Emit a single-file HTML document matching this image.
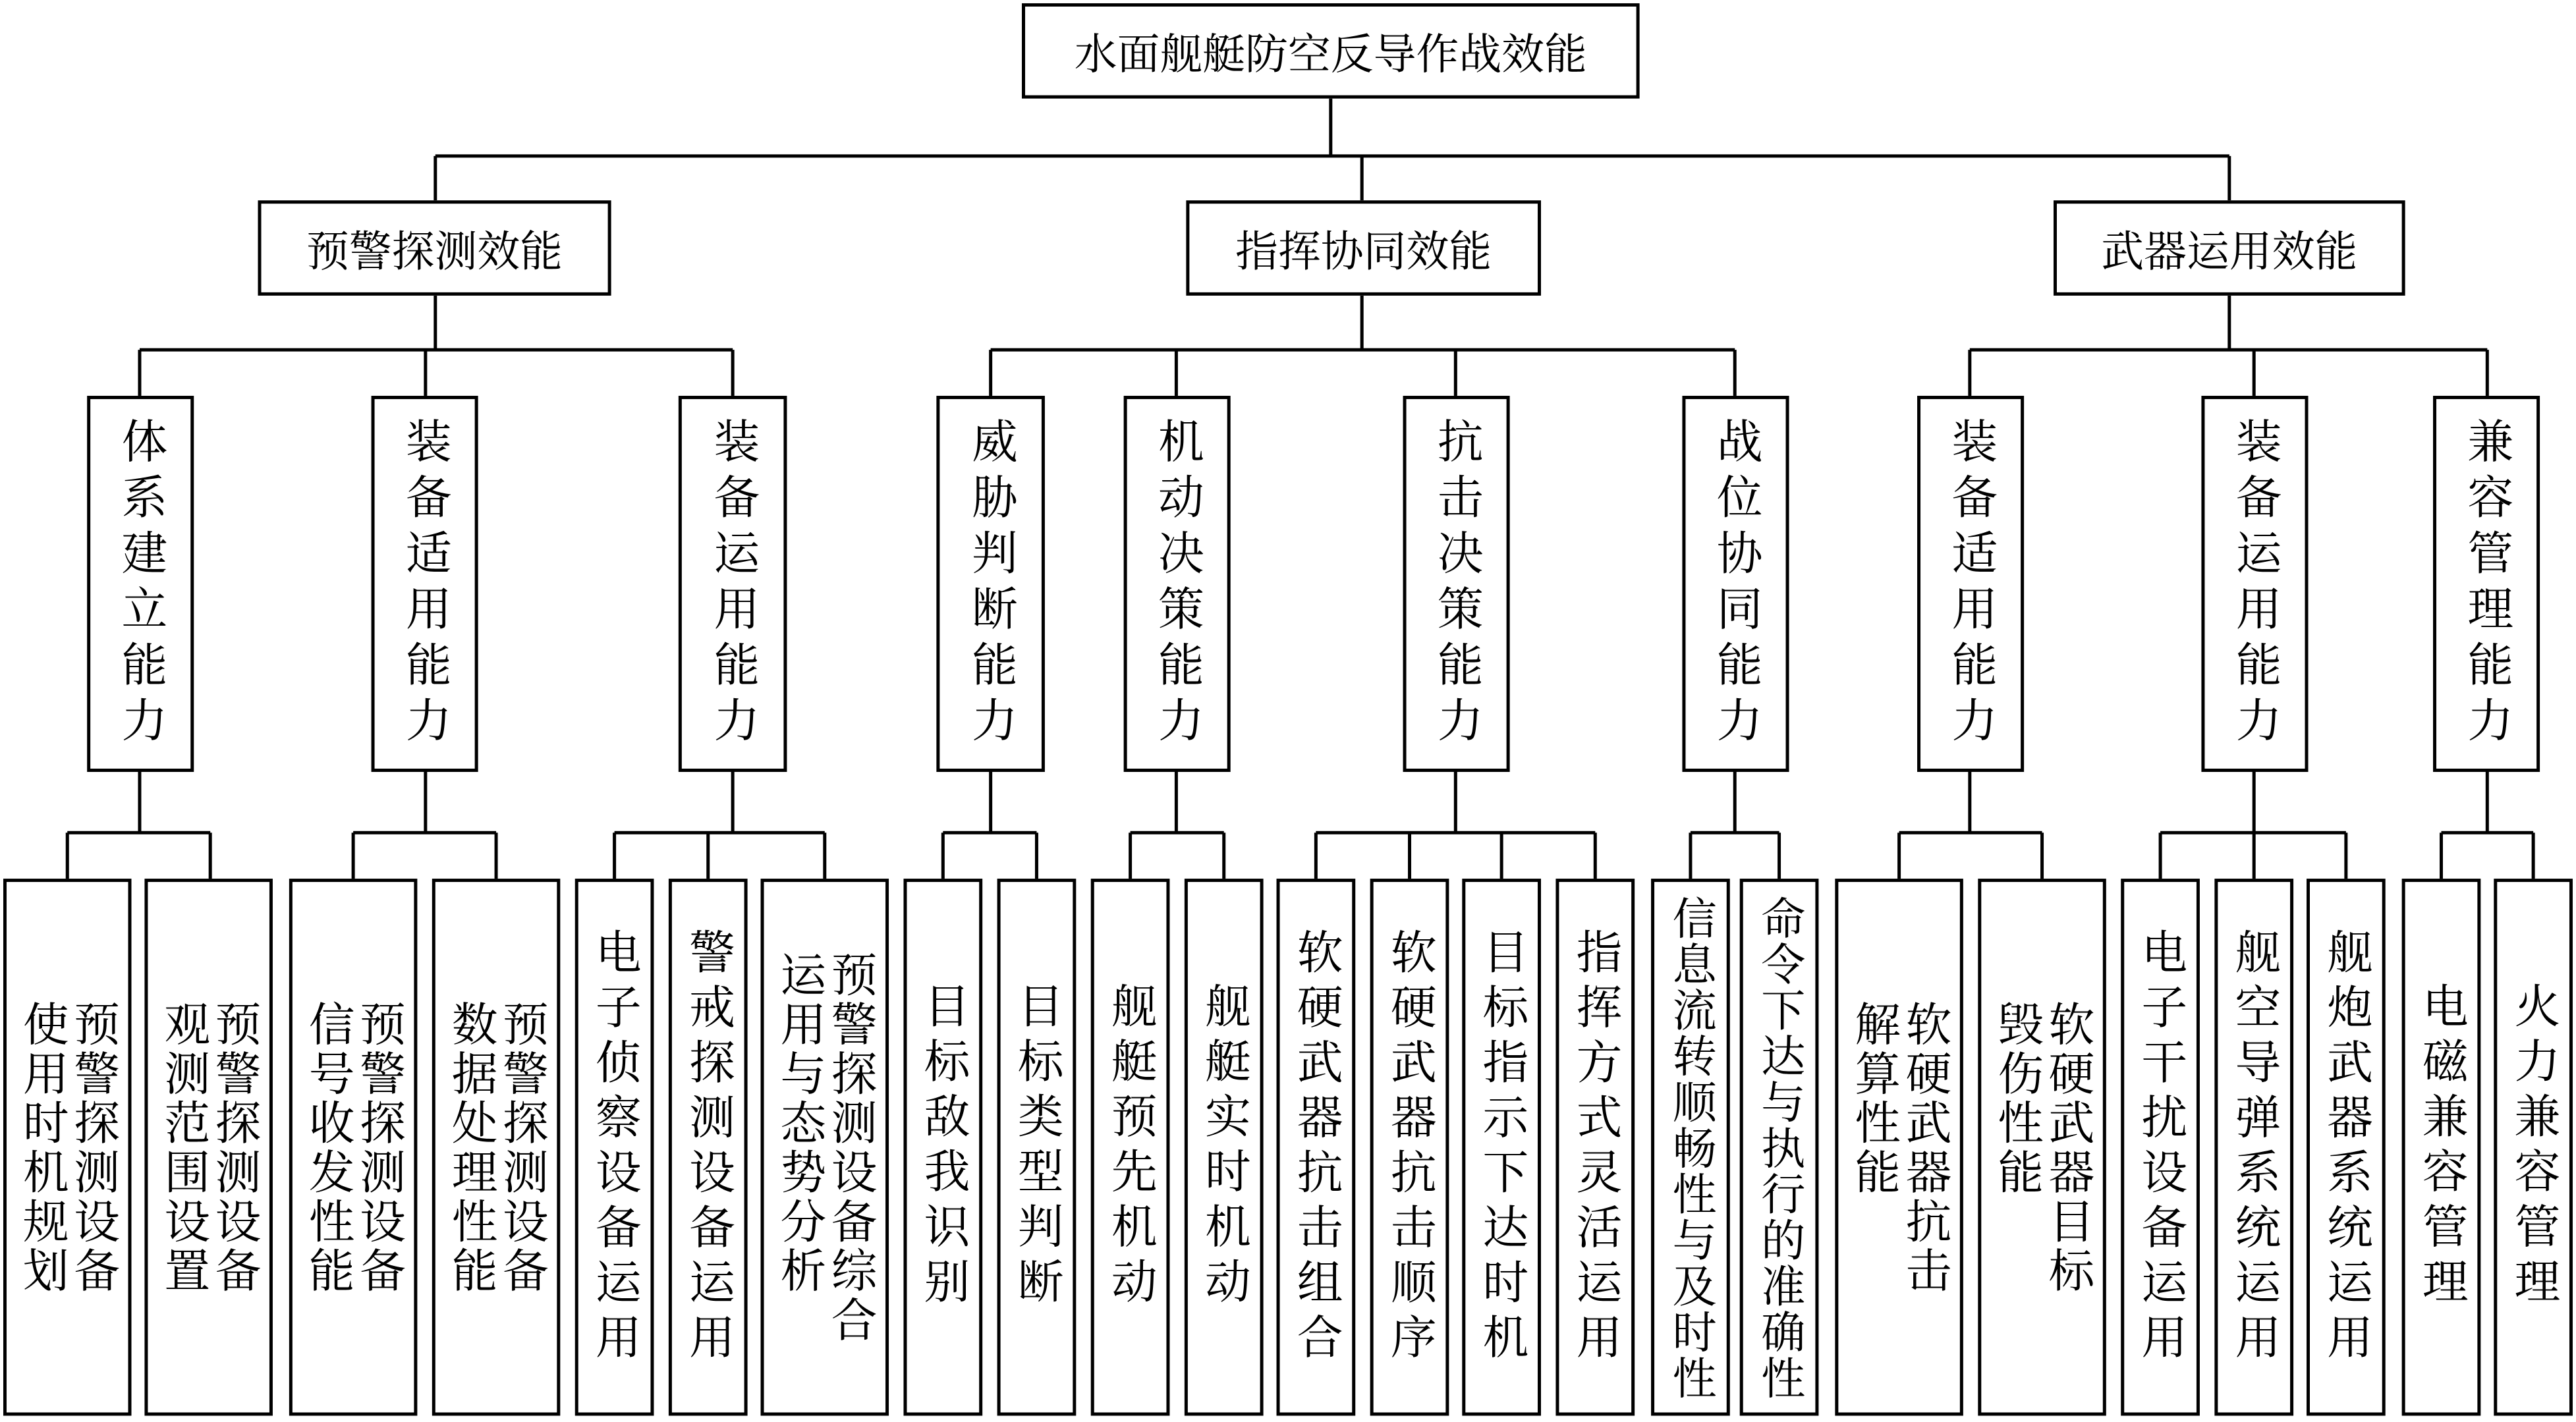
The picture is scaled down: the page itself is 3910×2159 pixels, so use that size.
<!DOCTYPE html>
<html><head><meta charset="utf-8"><style>
html,body{margin:0;padding:0;background:#fff;}
body{width:3910px;height:2158px;overflow:hidden;position:relative;}
#c{position:absolute;left:0;top:0;width:1568px;height:865.4px;transform:scale(2.4936);transform-origin:0 0;font-family:"Liberation Serif","Noto Serif CJK SC","Noto Sans CJK SC",serif;color:#000;}
svg{position:absolute;left:0;top:0;}
.b{position:absolute;box-sizing:border-box;border:2px solid #000;background:#fff;display:flex;align-items:center;justify-content:center;}
.h{font-size:26px;white-space:nowrap;}
.v{writing-mode:vertical-rl;font-size:28px;line-height:31px;white-space:nowrap;}
.l2{letter-spacing:6px;}
.s{letter-spacing:5.5px;}
.t{letter-spacing:2px;}
.long{font-size:27px;letter-spacing:1px;line-height:30px;}
.L2{top:241px;height:229px;}
.L3{top:535px;height:327px;}
</style></head><body><div id="c">
<svg width="1568" height="866" viewBox="0 0 1568 866" fill="none" stroke="#000" stroke-width="2">
<path d="M810 60V95M265 95H1357M265 95V122M829 95V122M1357 95V122"/>
<path d="M265 180V213M85 213H446M85 213V241M259 213V241M446 213V241"/>
<path d="M829 180V213M603 213H1056M603 213V241M716 213V241M886 213V241M1056 213V241"/>
<path d="M1357 180V213M1199 213H1514M1199 213V241M1372 213V241M1514 213V241"/>
<path d="M85 470V507M41 507H128M41 507V535M128 507V535"/>
<path d="M259 470V507M215 507H302M215 507V535M302 507V535"/>
<path d="M446 470V507M374 507H502M374 507V535M431 507V535M502 507V535"/>
<path d="M603 470V507M574 507H631M574 507V535M631 507V535"/>
<path d="M716 470V507M688 507H745M688 507V535M745 507V535"/>
<path d="M886 470V507M801 507H971M801 507V535M858 507V535M914 507V535M971 507V535"/>
<path d="M1056 470V507M1029 507H1083M1029 507V535M1083 507V535"/>
<path d="M1199 470V507M1156 507H1243M1156 507V535M1243 507V535"/>
<path d="M1372 470V507M1315 507H1428M1315 507V535M1372 507V535M1428 507V535"/>
<path d="M1514 470V507M1486 507H1542M1486 507V535M1542 507V535"/>
</svg>
<div class="b h" style="left:622px;top:2px;width:376px;height:58px;">水面舰艇防空反导作战效能</div>
<div class="b h" style="left:157px;top:122px;width:215px;height:58px;">预警探测效能</div>
<div class="b h" style="left:722px;top:122px;width:216px;height:58px;">指挥协同效能</div>
<div class="b h" style="left:1250px;top:122px;width:214px;height:58px;">武器运用效能</div>

<div class="b L2" style="left:53px;width:65px;"><span class="v l2">体系建立能力</span></div>
<div class="b L2" style="left:226px;width:65px;"><span class="v l2">装备适用能力</span></div>
<div class="b L2" style="left:413px;width:66px;"><span class="v l2">装备运用能力</span></div>
<div class="b L2" style="left:570px;width:66px;"><span class="v l2">威胁判断能力</span></div>
<div class="b L2" style="left:684px;width:65px;"><span class="v l2">机动决策能力</span></div>
<div class="b L2" style="left:854px;width:65px;"><span class="v l2">抗击决策能力</span></div>
<div class="b L2" style="left:1024px;width:65px;"><span class="v l2">战位协同能力</span></div>
<div class="b L2" style="left:1167px;width:65px;"><span class="v l2">装备适用能力</span></div>
<div class="b L2" style="left:1340px;width:65px;"><span class="v l2">装备运用能力</span></div>
<div class="b L2" style="left:1481px;width:65px;"><span class="v l2">兼容管理能力</span></div>

<div class="b L3" style="left:2px;width:78px;"><span class="v t">预警探测设备<br>使用时机规划</span></div>
<div class="b L3" style="left:88px;width:78px;"><span class="v t">预警探测设备<br>观测范围设置</span></div>
<div class="b L3" style="left:176px;width:78px;"><span class="v t">预警探测设备<br>信号收发性能</span></div>
<div class="b L3" style="left:263px;width:78px;"><span class="v t">预警探测设备<br>数据处理性能</span></div>
<div class="b L3" style="left:350px;width:48px;"><span class="v s">电子侦察设备运用</span></div>
<div class="b L3" style="left:407px;width:48px;"><span class="v s">警戒探测设备运用</span></div>
<div class="b L3" style="left:463px;width:78px;"><span class="v t">预警探测设备综合<br>运用与态势分析</span></div>
<div class="b L3" style="left:550px;width:48px;"><span class="v s">目标敌我识别</span></div>
<div class="b L3" style="left:607px;width:48px;"><span class="v s">目标类型判断</span></div>
<div class="b L3" style="left:664px;width:48px;"><span class="v s">舰艇预先机动</span></div>
<div class="b L3" style="left:721px;width:48px;"><span class="v s">舰艇实时机动</span></div>
<div class="b L3" style="left:777px;width:48px;"><span class="v s">软硬武器抗击组合</span></div>
<div class="b L3" style="left:834px;width:48px;"><span class="v s">软硬武器抗击顺序</span></div>
<div class="b L3" style="left:890px;width:48px;"><span class="v s">目标指示下达时机</span></div>
<div class="b L3" style="left:947px;width:48px;"><span class="v s">指挥方式灵活运用</span></div>
<div class="b L3" style="left:1005px;width:48px;"><span class="v long">信息流转顺畅性与及时性</span></div>
<div class="b L3" style="left:1059px;width:48px;"><span class="v long">命令下达与执行的准确性</span></div>
<div class="b L3" style="left:1117px;width:78px;"><span class="v t">软硬武器抗击<br>解算性能</span></div>
<div class="b L3" style="left:1204px;width:78px;"><span class="v t">软硬武器目标<br>毁伤性能</span></div>
<div class="b L3" style="left:1291px;width:48px;"><span class="v s">电子干扰设备运用</span></div>
<div class="b L3" style="left:1348px;width:48px;"><span class="v s">舰空导弹系统运用</span></div>
<div class="b L3" style="left:1404px;width:48px;"><span class="v s">舰炮武器系统运用</span></div>
<div class="b L3" style="left:1462px;width:48px;"><span class="v s">电磁兼容管理</span></div>
<div class="b L3" style="left:1518px;width:48px;"><span class="v s">火力兼容管理</span></div>
</div></body></html>
